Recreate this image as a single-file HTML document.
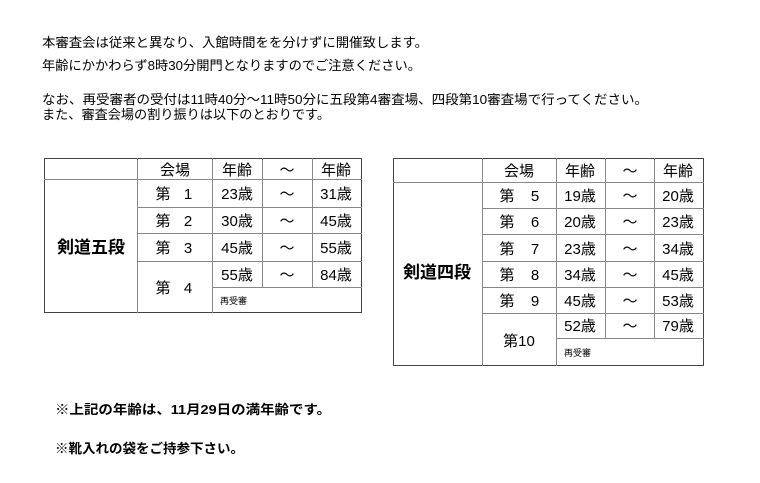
<!DOCTYPE html>
<html><head><meta charset="utf-8"><style>
html,body{margin:0;padding:0;background:#fff;width:760px;height:483px;overflow:hidden}
svg{display:block}
text{font-family:"Liberation Sans","Noto Sans CJK JP",sans-serif;fill:#000}
</style></head><body>
<svg width="760" height="483" viewBox="0 0 760 483" xmlns="http://www.w3.org/2000/svg">
<g font-size="13">
<text x="42" y="47" textLength="386" lengthAdjust="spacingAndGlyphs">本審査会は従来と異なり、入館時間をを分けずに開催致します。</text>
<text x="42" y="70" textLength="379" lengthAdjust="spacingAndGlyphs">年齢にかかわらず8時30分開門となりますのでご注意ください。</text>
<text x="42" y="104" textLength="606" lengthAdjust="spacingAndGlyphs">なお、再受審者の受付は11時40分～11時50分に五段第4審査場、四段第10審査場で行ってください。</text>
<text x="42" y="119" textLength="288" lengthAdjust="spacingAndGlyphs">また、審査会場の割り振りは以下のとおりです。</text>
</g>
<g font-size="13" font-weight="bold">
<text x="55" y="414" textLength="276" lengthAdjust="spacingAndGlyphs">※上記の年齢は、11月29日の満年齢です。</text>
<text x="55" y="453" textLength="189" lengthAdjust="spacingAndGlyphs">※靴入れの袋をご持参下さい。</text>
</g>

<!-- Left table -->
<g stroke="#888" stroke-width="1" fill="none">
<rect x="44.5" y="158.5" width="317" height="154" stroke="#444"/>
<line x1="44" y1="179.5" x2="362" y2="179.5"/>
<line x1="137.5" y1="158" x2="137.5" y2="313"/>
<line x1="212.5" y1="158" x2="212.5" y2="313"/>
<line x1="262.5" y1="158" x2="262.5" y2="287"/>
<line x1="312.5" y1="158" x2="312.5" y2="287"/>
<line x1="137" y1="207.5" x2="362" y2="207.5"/>
<line x1="137" y1="233.5" x2="362" y2="233.5"/>
<line x1="137" y1="261.5" x2="362" y2="261.5"/>
<line x1="212" y1="287.5" x2="362" y2="287.5"/>
</g>
<g font-size="15" text-anchor="middle">
<text x="175" y="175">会場</text><text x="237" y="175">年齢</text><text x="287" y="175">～</text><text x="336" y="175">年齢</text>
<text x="163" y="199">第</text><text x="188" y="199">1</text><text x="237" y="199">23歳</text><text x="287" y="199">～</text><text x="336" y="199">31歳</text>
<text x="163" y="226">第</text><text x="188" y="226">2</text><text x="237" y="226">30歳</text><text x="287" y="226">～</text><text x="336" y="226">45歳</text>
<text x="163" y="253">第</text><text x="188" y="253">3</text><text x="237" y="253">45歳</text><text x="287" y="253">～</text><text x="336" y="253">55歳</text>
<text x="163" y="293">第</text><text x="188" y="293">4</text><text x="237" y="280">55歳</text><text x="287" y="280">～</text><text x="336" y="280">84歳</text>
<text x="91" y="253" font-size="17" font-weight="bold">剣道五段</text>
</g>
<text x="220" y="304" font-size="9">再受審</text>

<!-- Right table -->
<g stroke="#888" stroke-width="1" fill="none">
<rect x="393.5" y="158.5" width="310" height="207" stroke="#444"/>
<line x1="393" y1="182.5" x2="704" y2="182.5"/>
<line x1="482.5" y1="158" x2="482.5" y2="366"/>
<line x1="556.5" y1="158" x2="556.5" y2="366"/>
<line x1="605.5" y1="158" x2="605.5" y2="338"/>
<line x1="654.5" y1="158" x2="654.5" y2="338"/>
<line x1="482" y1="208.5" x2="704" y2="208.5"/>
<line x1="482" y1="234.5" x2="704" y2="234.5"/>
<line x1="482" y1="261.5" x2="704" y2="261.5"/>
<line x1="482" y1="287.5" x2="704" y2="287.5"/>
<line x1="482" y1="313.5" x2="704" y2="313.5"/>
<line x1="556" y1="338.5" x2="704" y2="338.5"/>
</g>
<g font-size="15" text-anchor="middle">
<text x="519" y="176">会場</text><text x="580" y="176">年齢</text><text x="630" y="176">～</text><text x="678" y="176">年齢</text>
<text x="507" y="201">第</text><text x="535" y="201">5</text><text x="580" y="201">19歳</text><text x="630" y="201">～</text><text x="678" y="201">20歳</text>
<text x="507" y="227">第</text><text x="535" y="227">6</text><text x="580" y="227">20歳</text><text x="630" y="227">～</text><text x="678" y="227">23歳</text>
<text x="507" y="254">第</text><text x="535" y="254">7</text><text x="580" y="254">23歳</text><text x="630" y="254">～</text><text x="678" y="254">34歳</text>
<text x="507" y="280">第</text><text x="535" y="280">8</text><text x="580" y="280">34歳</text><text x="630" y="280">～</text><text x="678" y="280">45歳</text>
<text x="507" y="306">第</text><text x="535" y="306">9</text><text x="580" y="306">45歳</text><text x="630" y="306">～</text><text x="678" y="306">53歳</text>
<text x="519" y="346">第10</text><text x="580" y="331">52歳</text><text x="630" y="331">～</text><text x="678" y="331">79歳</text>
<text x="437" y="278" font-size="17" font-weight="bold">剣道四段</text>
</g>
<text x="564" y="356" font-size="9">再受審</text>
</svg>
</body></html>
